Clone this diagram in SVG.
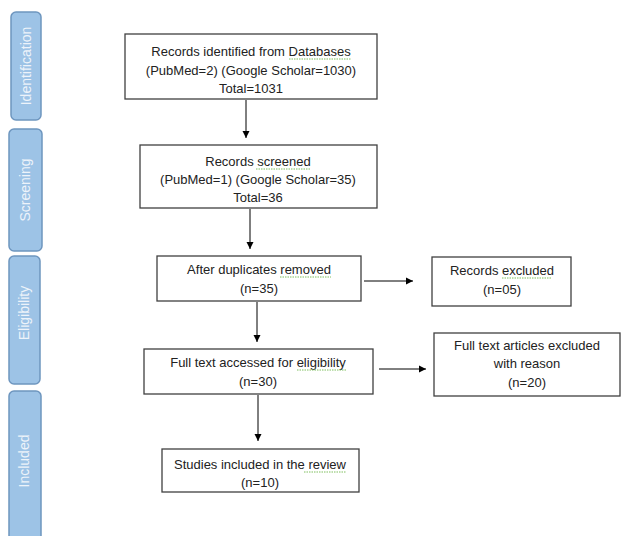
<svg xmlns="http://www.w3.org/2000/svg" width="622" height="536" viewBox="0 0 622 536">
<defs>
<style>
.tab{fill:#9DC3E6;stroke:#6E96BF;stroke-width:1.5}
.tabt{font-family:"Liberation Sans",Arial,sans-serif;font-size:14px;fill:#EDF3FA;text-anchor:middle}
.box{fill:#fff;stroke:#404040;stroke-width:1.3}
.t{font-family:"Liberation Sans",Arial,sans-serif;font-size:13px;fill:#222;text-anchor:middle}
.c{stroke:#000;stroke-width:1;fill:none}
.sq{stroke:#7FBF5F;stroke-width:1;fill:none;stroke-dasharray:1.5 1}
</style>
<marker id="ah" markerWidth="8" markerHeight="8" refX="7" refY="4" orient="auto" markerUnits="userSpaceOnUse">
<path d="M0,0.5 L7,4 L0,7.5 Z" fill="#000"/>
</marker>
</defs>
<rect width="622" height="536" fill="#fff"/>
<g id="tab-identification"><rect class="tab" x="11" y="12" width="30" height="108" rx="5"/><text class="tabt" transform="translate(31,66) rotate(-90)">Identification</text></g>
<g id="tab-screening"><rect class="tab" x="9" y="129" width="33" height="122" rx="5"/><text class="tabt" transform="translate(30,190) rotate(-90)">Screening</text></g>
<g id="tab-eligibility"><rect class="tab" x="9" y="256" width="31" height="128" rx="5"/><text class="tabt" transform="translate(29,313) rotate(-90)">Eligibility</text></g>
<g id="tab-included"><rect class="tab" x="9" y="391" width="32" height="160" rx="5"/><text class="tabt" transform="translate(29,461) rotate(-90)">Included</text></g>
<g id="connectors">
<line class="c" x1="246" y1="100" x2="246" y2="138" marker-end="url(#ah)"/>
<line class="c" x1="250" y1="209" x2="250" y2="249" marker-end="url(#ah)"/>
<line class="c" x1="364" y1="281" x2="413" y2="281" marker-end="url(#ah)"/>
<line class="c" x1="257" y1="302" x2="257" y2="342" marker-end="url(#ah)"/>
<line class="c" x1="379" y1="369" x2="426" y2="369" marker-end="url(#ah)"/>
<line class="c" x1="258" y1="395" x2="258" y2="441" marker-end="url(#ah)"/>
</g>
<g id="identified"><rect class="box" x="125" y="34" width="252" height="65"/>
<text class="t" x="251" y="56">Records identified from Databases</text>
<text class="t" x="251" y="75">(PubMed=2) (Google Scholar=1030)</text>
<text class="t" x="251" y="93">Total=1031</text>
<line class="sq" x1="289" y1="59" x2="351" y2="59"/></g>
<g id="screened"><rect class="box" x="140" y="145" width="237" height="63"/>
<text class="t" x="258" y="166">Records screened</text>
<text class="t" x="258" y="184">(PubMed=1) (Google Scholar=35)</text>
<text class="t" x="258" y="202">Total=36</text>
<line class="sq" x1="256" y1="169" x2="310" y2="169"/></g>
<g id="duplicates"><rect class="box" x="157" y="256" width="204" height="45"/>
<text class="t" x="259" y="274">After duplicates removed</text>
<text class="t" x="259" y="293">(n=35)</text>
<line class="sq" x1="280" y1="277" x2="331" y2="277"/></g>
<g id="excluded"><rect class="box" x="432" y="257" width="139" height="49"/>
<text class="t" x="502" y="275">Records excluded</text>
<text class="t" x="502" y="294">(n=05)</text>
<line class="sq" x1="502" y1="278" x2="552" y2="278"/></g>
<g id="fulltext"><rect class="box" x="144" y="349" width="229" height="45"/>
<text class="t" x="258" y="367">Full text accessed for eligibility</text>
<text class="t" x="258" y="386">(n=30)</text>
<line class="sq" x1="297" y1="370" x2="346" y2="370"/></g>
<g id="ft-excluded"><rect class="box" x="434" y="333" width="186" height="63"/>
<text class="t" x="527" y="350">Full text articles excluded</text>
<text class="t" x="527" y="368">with reason</text>
<text class="t" x="527" y="387">(n=20)</text></g>
<g id="included"><rect class="box" x="162" y="449" width="197" height="43"/>
<text class="t" x="260" y="469">Studies included in the review</text>
<text class="t" x="260" y="487">(n=10)</text>
<line class="sq" x1="304" y1="472" x2="346" y2="472"/></g>
</svg>
